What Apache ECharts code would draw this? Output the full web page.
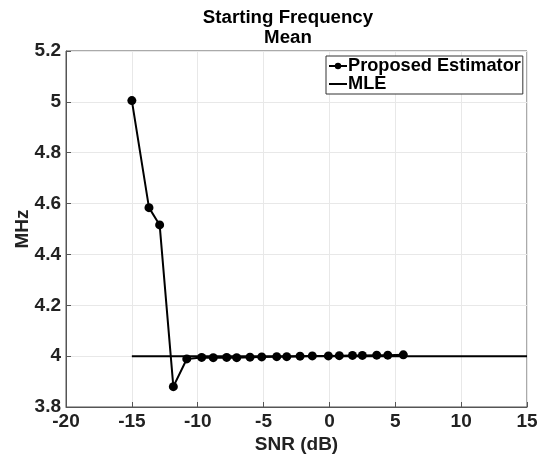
<!DOCTYPE html>
<html>
<head>
<meta charset="utf-8">
<script src="https://cdn.jsdelivr.net/npm/echarts@6/dist/echarts.min.js"></script>
<style>
html,body{margin:0;padding:0;background:#fff;}
#chart{width:546px;height:458px;}
</style>
</head>
<body>
<div id="chart"></div>
<script>
const snrProposed = [-15.0, -13.70, -12.89, -11.85, -10.83, -9.70, -8.82, -7.80, -7.04, -6.03, -5.14, -4.00, -3.24, -2.23, -1.30, -0.08, 0.75, 1.75, 2.50, 3.59, 4.43, 5.61];
const meanProposed = [5.005, 4.584, 4.516, 3.880, 3.989, 3.995, 3.994, 3.995, 3.994, 3.996, 3.997, 3.998, 3.998, 4.000, 4.001, 4.001, 4.002, 4.003, 4.003, 4.004, 4.004, 4.005];
const snrMLE = [-15, 15];
const meanMLE = [4.0, 4.0];
const xTicks = {min: -20, max: 15, step: 5};
const yTicks = {min: 3.8, max: 5.2, step: 0.2};

const FONT = 'Liberation Sans, Arial, Helvetica, sans-serif';
const chart = echarts.init(document.getElementById('chart'), null, {renderer: 'canvas'});
chart.setOption({
  animation: false,
  backgroundColor: '#ffffff',
  title: {
    text: 'Starting Frequency\nMean',
    left: 283, top: 3, textAlign: 'center',
    textStyle: {fontFamily: FONT, fontWeight: 'bold', fontSize: 18.7, lineHeight: 20, color: '#000'}
  },
  grid: {left: 66, right: 19, top: 51, bottom: 51, show: true, borderColor: '#555', borderWidth: 1,
    backgroundColor: 'transparent', containLabel: false, outerBoundsMode: 'none'},
  legend: {
    orient: 'vertical', left: 326, top: 56,
    borderColor: '#333', borderWidth: 1, padding: [1, 2, 1, 2],
    itemWidth: 18, itemHeight: 8, itemGap: 0,
    backgroundColor: '#fff',
    textStyle: {fontFamily: FONT, fontWeight: 'bold', fontSize: 18.2, color: '#000', padding: [0, 0, 0, -4]},
    data: [
      {name: 'Proposed Estimator'},
      {name: 'MLE', itemStyle: {opacity: 0}}
    ]
  },
  xAxis: {
    type: 'value', min: xTicks.min, max: xTicks.max, interval: xTicks.step,
    name: 'SNR (dB)', nameLocation: 'middle', nameGap: 28, nameMoveOverlap: false,
    nameTextStyle: {fontFamily: FONT, fontWeight: 'bold', fontSize: 19, color: '#222'},
    axisLine: {show: true, onZero: false, lineStyle: {color: '#555', width: 1}},
    axisTick: {show: true, inside: true, length: 5, lineStyle: {color: '#555'}},
    axisLabel: {fontFamily: FONT, fontWeight: 'bold', fontSize: 19, color: '#222', margin: 5},
    splitLine: {show: true, lineStyle: {color: '#e8e8e8', width: 1}}
  },
  yAxis: {
    type: 'value', min: yTicks.min, max: yTicks.max, interval: yTicks.step,
    name: 'MHz', nameLocation: 'middle', nameGap: 34, nameMoveOverlap: false,
    nameTextStyle: {fontFamily: FONT, fontWeight: 'bold', fontSize: 19, color: '#222'},
    axisLine: {show: true, onZero: false, lineStyle: {color: '#555', width: 1}},
    axisTick: {show: true, inside: true, length: 5, lineStyle: {color: '#555'}},
    axisLabel: {fontFamily: FONT, fontWeight: 'bold', fontSize: 19, color: '#222', margin: 5,
      formatter: v => String(Math.round(v * 10) / 10)},
    splitLine: {show: true, lineStyle: {color: '#e8e8e8', width: 1}}
  },
  series: [
    {
      name: 'MLE', type: 'line',
      data: snrMLE.map((x, i) => [x, meanMLE[i]]),
      symbol: 'none', lineStyle: {color: '#000', width: 2}, itemStyle: {color: '#000'}, z: 2
    },
    {
      name: 'Proposed Estimator', type: 'line',
      data: snrProposed.map((x, i) => [x, meanProposed[i]]),
      symbol: 'circle', symbolSize: 9, showSymbol: true,
      lineStyle: {color: '#000', width: 2}, itemStyle: {color: '#000'}, z: 3
    }
  ]
});
</script>
</body>
</html>
